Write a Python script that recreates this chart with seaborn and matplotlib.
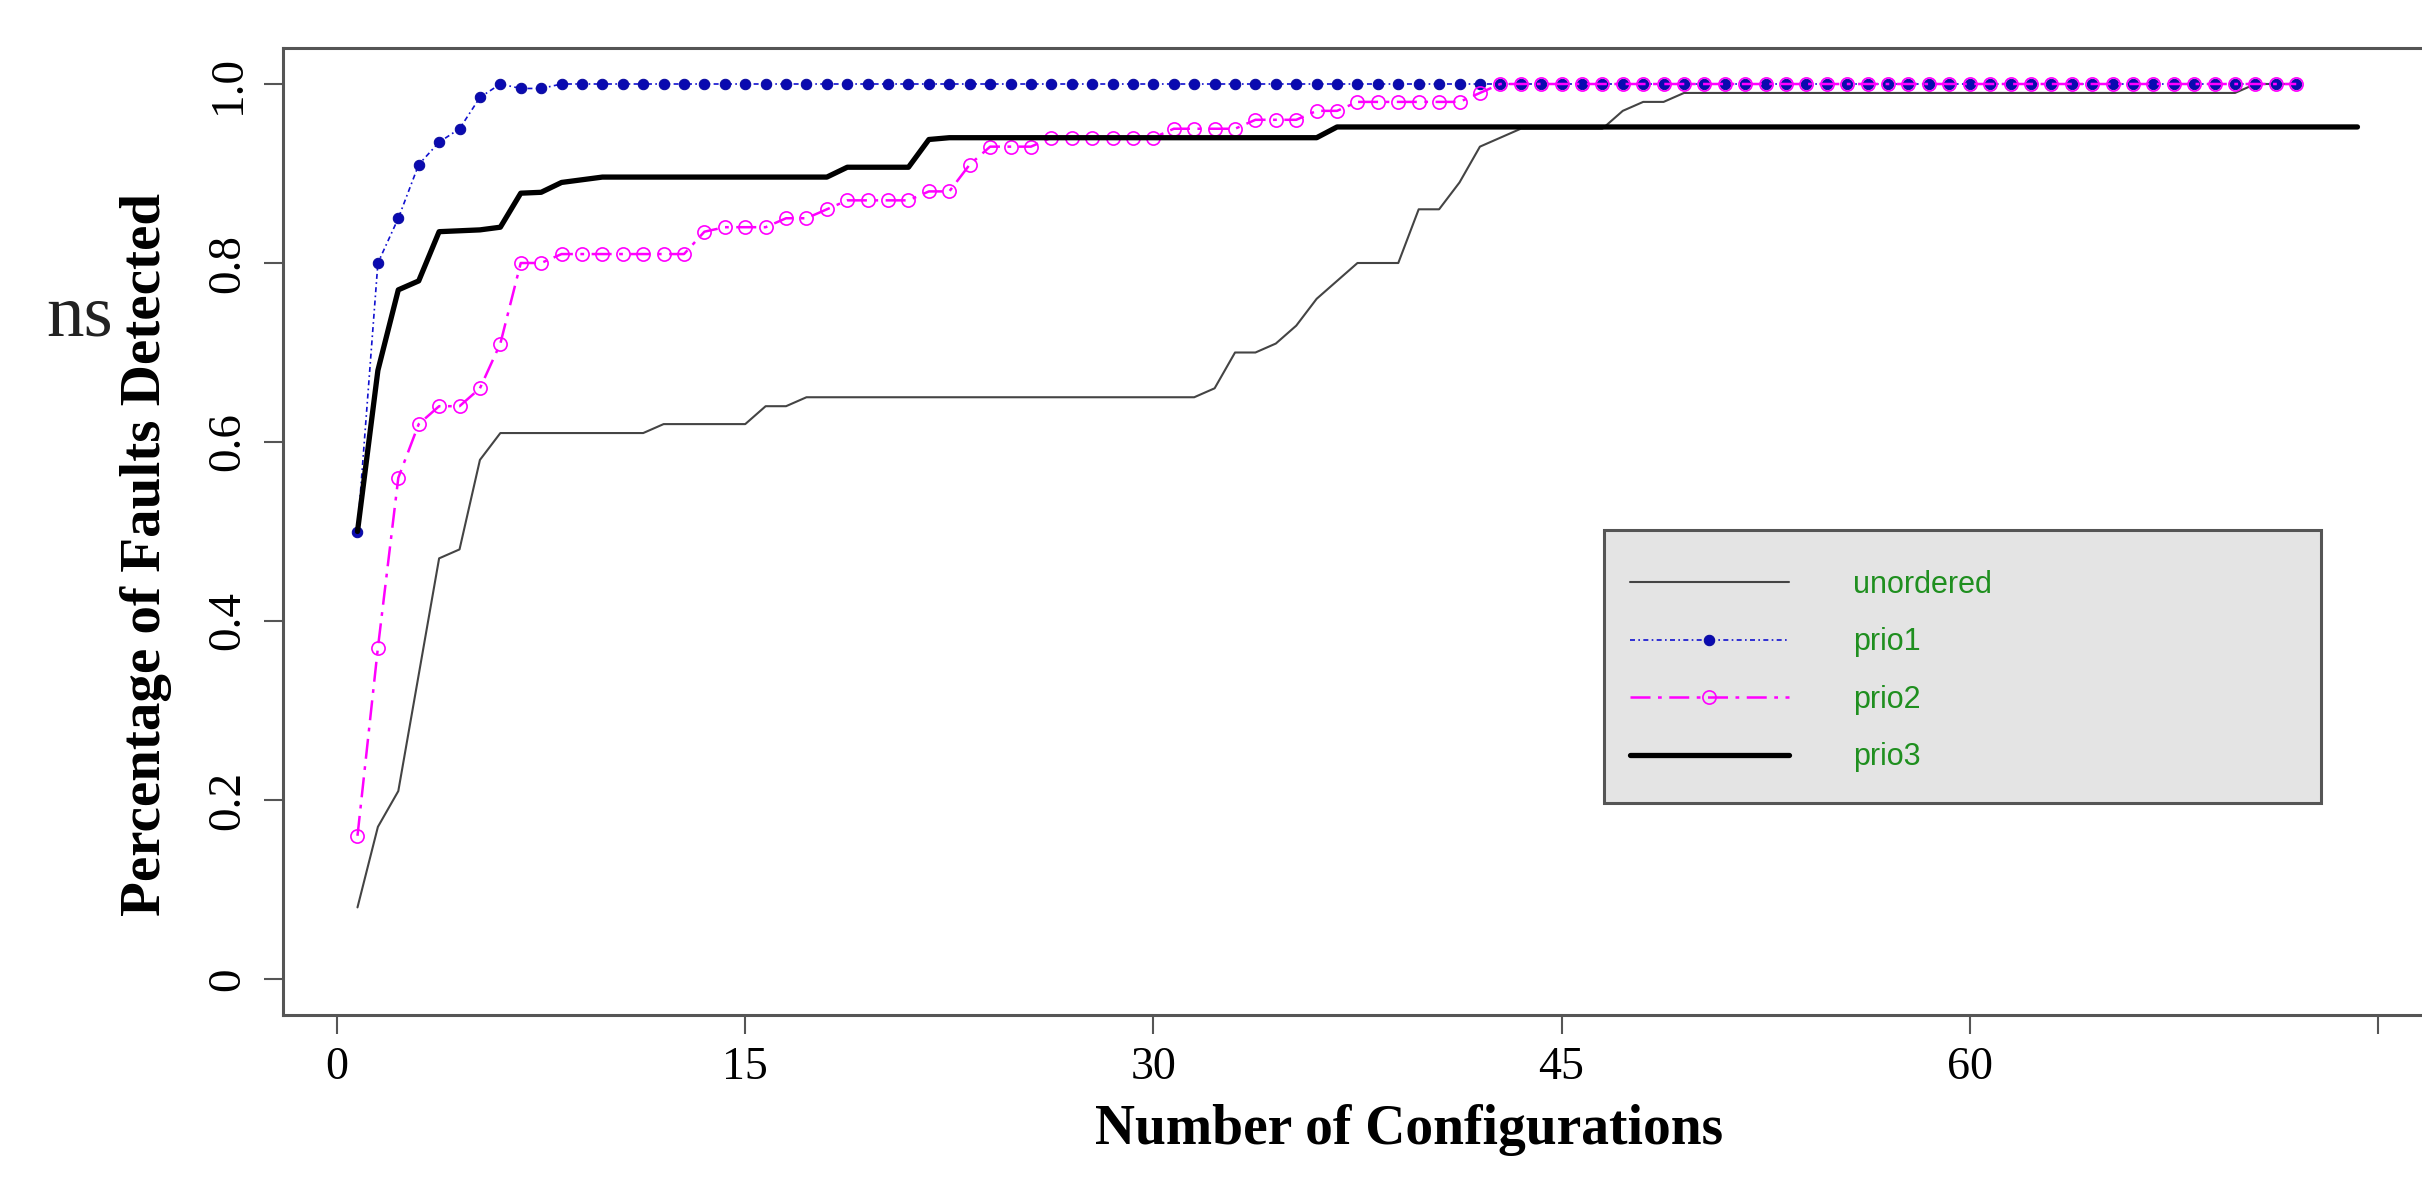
import numpy as np
import seaborn as sns
import matplotlib.pyplot as plt
from matplotlib.patches import Rectangle

# fraction of faults detected after each step (one value per step)
unordered = [0.08, 0.17, 0.21, 0.34, 0.47, 0.48, 0.58, 0.61, 0.61, 0.61, 0.61, 0.61,
             0.61, 0.61, 0.61, 0.62, 0.62, 0.62, 0.62, 0.62, 0.64, 0.64, 0.65, 0.65,
             0.65, 0.65, 0.65, 0.65, 0.65, 0.65, 0.65, 0.65, 0.65, 0.65, 0.65, 0.65,
             0.65, 0.65, 0.65, 0.65, 0.65, 0.65, 0.66, 0.70, 0.70, 0.71, 0.73, 0.76,
             0.78, 0.80, 0.80, 0.80, 0.86, 0.86, 0.89, 0.93, 0.94, 0.95, 0.95, 0.95,
             0.95, 0.95, 0.97, 0.98, 0.98, 0.99, 0.99, 0.99, 0.99, 0.99, 0.99, 0.99,
             0.99, 0.99, 0.99, 0.99, 0.99, 0.99, 0.99, 0.99, 0.99, 0.99, 0.99, 0.99,
             0.99, 0.99, 0.99, 0.99, 0.99, 0.99, 0.99, 0.99, 0.99, 1.00, 1.00, 1.00]

prio1 = [0.50, 0.80, 0.85, 0.91, 0.935, 0.95, 0.985, 1.00, 0.995, 0.995, 1.00, 1.00,
         1.00, 1.00, 1.00, 1.00, 1.00, 1.00, 1.00, 1.00, 1.00, 1.00, 1.00, 1.00,
         1.00, 1.00, 1.00, 1.00, 1.00, 1.00, 1.00, 1.00, 1.00, 1.00, 1.00, 1.00,
         1.00, 1.00, 1.00, 1.00, 1.00, 1.00, 1.00, 1.00, 1.00, 1.00, 1.00, 1.00,
         1.00, 1.00, 1.00, 1.00, 1.00, 1.00, 1.00, 1.00, 1.00, 1.00, 1.00, 1.00,
         1.00, 1.00, 1.00, 1.00, 1.00, 1.00, 1.00, 1.00, 1.00, 1.00, 1.00, 1.00,
         1.00, 1.00, 1.00, 1.00, 1.00, 1.00, 1.00, 1.00, 1.00, 1.00, 1.00, 1.00,
         1.00, 1.00, 1.00, 1.00, 1.00, 1.00, 1.00, 1.00, 1.00, 1.00, 1.00, 1.00]

prio2 = [0.16, 0.37, 0.56, 0.62, 0.64, 0.64, 0.66, 0.71, 0.80, 0.80, 0.81, 0.81,
         0.81, 0.81, 0.81, 0.81, 0.81, 0.835, 0.84, 0.84, 0.84, 0.85, 0.85, 0.86,
         0.87, 0.87, 0.87, 0.87, 0.88, 0.88, 0.91, 0.93, 0.93, 0.93, 0.94, 0.94,
         0.94, 0.94, 0.94, 0.94, 0.95, 0.95, 0.95, 0.95, 0.96, 0.96, 0.96, 0.97,
         0.97, 0.98, 0.98, 0.98, 0.98, 0.98, 0.98, 0.99, 1.00, 1.00, 1.00, 1.00,
         1.00, 1.00, 1.00, 1.00, 1.00, 1.00, 1.00, 1.00, 1.00, 1.00, 1.00, 1.00,
         1.00, 1.00, 1.00, 1.00, 1.00, 1.00, 1.00, 1.00, 1.00, 1.00, 1.00, 1.00,
         1.00, 1.00, 1.00, 1.00, 1.00, 1.00, 1.00, 1.00, 1.00, 1.00, 1.00, 1.00]

prio3 = [0.50, 0.68, 0.77, 0.78, 0.835, 0.836, 0.837, 0.84, 0.878, 0.879, 0.89, 0.893,
         0.896, 0.896, 0.896, 0.896, 0.896, 0.896, 0.896, 0.896, 0.896, 0.896, 0.896, 0.896,
         0.907, 0.907, 0.907, 0.907, 0.938, 0.94, 0.94, 0.94, 0.94, 0.94, 0.94, 0.94,
         0.94, 0.94, 0.94, 0.94, 0.94, 0.94, 0.94, 0.94, 0.94, 0.94, 0.94, 0.94,
         0.952, 0.952, 0.952, 0.952, 0.952, 0.952, 0.952, 0.952, 0.952, 0.952, 0.952, 0.952,
         0.952, 0.952, 0.952, 0.952, 0.952, 0.952, 0.952, 0.952, 0.952, 0.952, 0.952, 0.952,
         0.952, 0.952, 0.952, 0.952, 0.952, 0.952, 0.952, 0.952, 0.952, 0.952, 0.952, 0.952,
         0.952, 0.952, 0.952, 0.952, 0.952, 0.952, 0.952, 0.952, 0.952, 0.952, 0.952, 0.952,
         0.952, 0.952, 0.952]

# axis ticks: steps on the data axis, shown as number of configurations
x_tick_pos = [0, 20, 40, 60, 80, 100]
x_tick_labels = ["0", "15", "30", "45", "60", ""]
y_ticks = [0, 0.2, 0.4, 0.6, 0.8, 1.0]
y_tick_labels = ["0", "0.2", "0.4", "0.6", "0.8", "1.0"]

sns.set_theme(style="ticks")
plt.rcParams["font.family"] = ["Liberation Serif", "DejaVu Serif"]
plt.rcParams["text.color"] = "black"
plt.rcParams["axes.labelcolor"] = "black"

fig = plt.figure(figsize=(24.22, 11.97), dpi=100)
W, H = 2422, 1197
# plot region runs past the right edge of the picture (cropped original)
ax = fig.add_axes([283 / W, 1 - 1014.8 / H, (2535 - 283) / W, 966.6 / H])

frame_col = "#555555"

sns.lineplot(x=np.arange(1, len(unordered) + 1), y=unordered, ax=ax,
             color="#444444", lw=1.5, label="unordered")
sns.lineplot(x=np.arange(1, len(prio1) + 1), y=prio1, ax=ax,
             color="#1010d0", lw=1.2, linestyle=(0, (3, 2, 1, 2)),
             marker="o", ms=7.5, mec="#0a0aa0", mfc="#0a0ab0", label="prio1")
sns.lineplot(x=np.arange(1, len(prio2) + 1), y=prio2, ax=ax,
             color="#ff00ff", lw=1.8, linestyle=(0, (8, 3, 1.5, 3)),
             marker="o", ms=9.5, mfc="none", mec="#ff00ff", mew=1.2, label="prio2")
sns.lineplot(x=np.arange(1, len(prio3) + 1), y=prio3, ax=ax,
             color="black", lw=3.8, label="prio3")

ax.set_xlim(-2.65, 107.7)
ax.set_ylim(-0.04, 1.04)

ax.set_xticks(x_tick_pos)
ax.set_xticklabels(x_tick_labels)
ax.set_yticks(y_ticks)
ax.set_yticklabels(y_tick_labels, rotation=90, va="center")

ax.tick_params(axis="x", direction="out", length=14, width=1.5, color=frame_col,
               labelcolor="black", pad=9, labelsize=33)
ax.tick_params(axis="y", direction="out", length=14, width=1.5, color=frame_col,
               labelcolor="black", pad=10, labelsize=34)

for sp in ax.spines.values():
    sp.set_color(frame_col)
    sp.set_linewidth(2.2)
ax.grid(False)

ax.set_xlabel("Number of Configurations", fontsize=40, fontweight="bold")
ax.xaxis.set_label_coords(0.5, -0.119)
ax.xaxis.label.set_va("center")
ax.set_ylabel("Percentage of Faults Detected", fontsize=41, fontweight="bold")
ax.yaxis.set_label_coords(-0.0610, 0.4757)
ax.yaxis.label.set_va("center")

# legend: grey box with green sans labels
box = Rectangle((1604 / W, 1 - 803 / H), 717 / W, 273 / H, transform=fig.transFigure,
                facecolor="#e4e4e4", edgecolor=frame_col, lw=2.2, zorder=4.5,
                clip_on=False)
ax.add_patch(box)
handles, labels = ax.get_legend_handles_labels()
leg = ax.legend(handles, labels, loc="center left",
                bbox_to_anchor=(1630 / W, 1 - 671 / H), bbox_transform=fig.transFigure,
                frameon=False, borderpad=0, borderaxespad=0, numpoints=1,
                handlelength=5.2, handletextpad=2.1, labelspacing=0.9,
                prop={"family": "Liberation Sans", "size": 22}, labelcolor="#1f8f1f")
leg.set_zorder(5)

# fragment of text cut off at the left edge of the original
fig.text(46 / W, 1 - 318 / H, "ns", fontsize=54, ha="left", va="center",
         color="#222222")

fig.savefig("out.png", dpi=100)
